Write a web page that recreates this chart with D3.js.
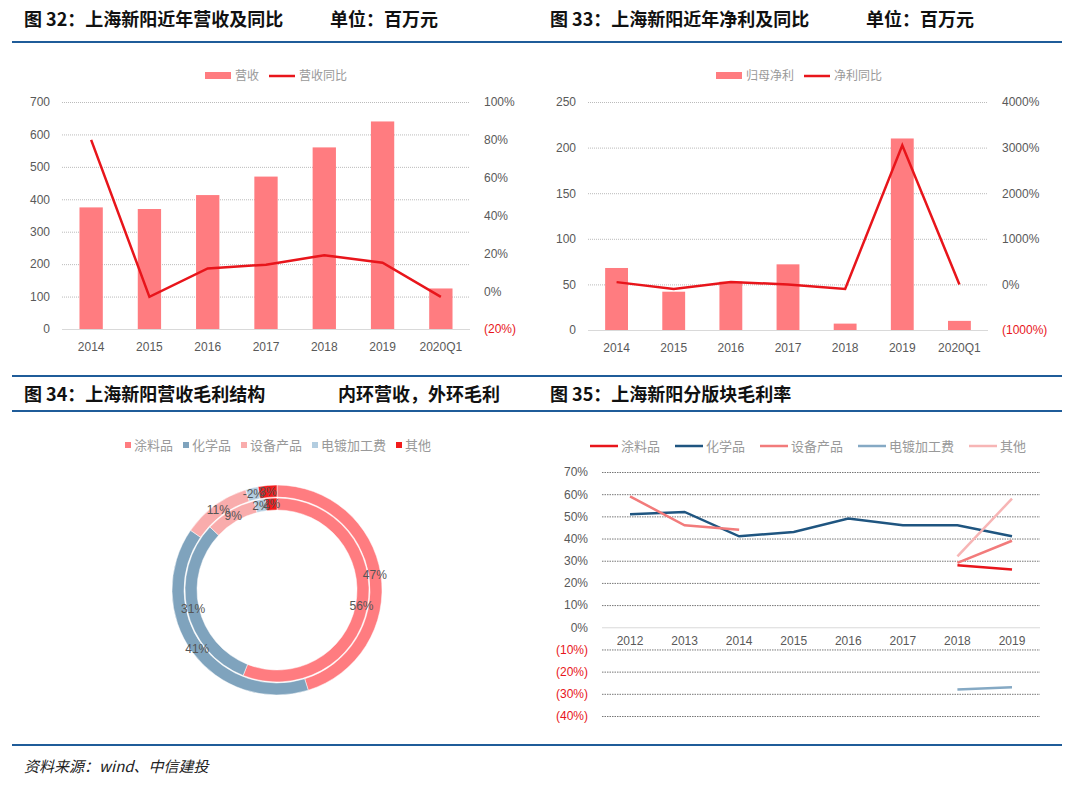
<!DOCTYPE html>
<html><head><meta charset="utf-8">
<script src="https://cdn.jsdelivr.net/npm/d3@7"></script>
<style>
body{margin:0;background:#fff;}
text{font-family:"Liberation Sans",Arial,sans-serif;}
.cn{font-family:"Noto Sans CJK SC",sans-serif;}
</style></head><body>
<svg id="c" width="1080" height="789"></svg>
<script>
// chart 32
const years32 = ["2014","2015","2016","2017","2018","2019","2020Q1"];
const revenue = [375, 370, 413, 470, 560, 640, 125];
const revenueYoy = [80, -3, 12, 14, 19, 15, -3];
// chart 33
const profit = [68, 42, 53, 72, 7, 210, 10];
const profitYoy = [50, -100, 50, 0, -100, 3050, 0];
// chart 34
const segments = ["涂料品","化学品","设备产品","电镀加工费","其他"];
const segRevenue = [56, 31, 9, 2, 2];
const segProfit = [47, 41, 11, -2, 3];
const segColors = ["#ff7c80","#7fa3bd","#f9acac","#b3cde0","#f21c1c"];
// chart 35
const years35 = ["2012","2013","2014","2015","2016","2017","2018","2019"];
const margins = [
  {name:"涂料品", color:"#e8151b", v:[null,null,null,null,null,null,28,26]},
  {name:"化学品", color:"#1f5580", v:[51,52,41,43,49,46,46,41]},
  {name:"设备产品", color:"#f27b7b", v:[59,46,44,null,null,null,29,39]},
  {name:"电镀加工费", color:"#85a9c4", v:[null,null,null,null,null,null,-28,-27]},
  {name:"其他", color:"#f7b5b5", v:[null,null,null,null,null,null,32,58]}
];

const svg = d3.select("#c");
const blue = "#1f5c99";

// header rules and titles
[42, 376, 411, 745].forEach(y => svg.append("line").attr("x1",12).attr("x2",1062)
  .attr("y1",y).attr("y2",y).attr("stroke",blue).attr("stroke-width",2));
const titles = [
  [24,26,"图 32：上海新阳近年营收及同比"],[330,26,"单位：百万元"],
  [550,26,"图 33：上海新阳近年净利及同比"],[866,26,"单位：百万元"],
  [24,401,"图 34：上海新阳营收毛利结构"],[338,401,"内环营收，外环毛利"],
  [550,401,"图 35：上海新阳分版块毛利率"]];
titles.forEach(t => svg.append("text").attr("class","cn").attr("x",t[0]).attr("y",t[1])
  .attr("font-size",18).attr("font-weight","bold").attr("fill","#111").text(t[2]));
svg.append("text").attr("class","cn").attr("x",24).attr("y",772).attr("font-size",15)
  .attr("font-style","italic").attr("fill","#222").text("资料来源：wind、中信建投");

function barLine(opt) {
  const g = svg.append("g");
  const x = d3.scaleBand().domain(years32).range([opt.x0, opt.x1]).paddingInner(0.6).paddingOuter(0.3);
  const y = d3.scaleLinear().domain(opt.yl).range([opt.yb, opt.yt]);
  const y2 = d3.scaleLinear().domain(opt.yr).range([opt.yb, opt.yt]);
  g.append("g").attr("transform",`translate(${opt.x0},0)`)
    .call(d3.axisLeft(y).tickValues(opt.lt).tickSize(-(opt.x1-opt.x0)).tickPadding(12))
    .call(a => { a.select(".domain").remove();
      a.selectAll("line").attr("stroke","#bbb").attr("stroke-dasharray","1,1");
      a.selectAll("text").attr("fill","#595959");
      a.selectAll(".tick:first-of-type line").attr("stroke","#d9d9d9").attr("stroke-dasharray",null); });
  g.append("g").attr("transform",`translate(${opt.x1},0)`)
    .call(d3.axisRight(y2).tickValues(opt.rt).tickSize(0).tickPadding(14)
      .tickFormat(d => d < 0 ? `(${-d}%)` : `${d}%`))
    .call(a => { a.select(".domain").remove();
      a.selectAll("text").attr("fill", d => d < 0 ? "#e8151b" : "#595959"); });
  g.selectAll("g.tick text").attr("font-size",12);
  g.selectAll("rect.b").data(opt.bars).join("rect")
    .attr("x",(d,i)=>x(years32[i])).attr("width",x.bandwidth())
    .attr("y",d=>y(d)).attr("height",d=>y(0)-y(d)).attr("fill","#ff7c80");
  g.append("path").datum(opt.line).attr("fill","none").attr("stroke","#e8151b").attr("stroke-width",2.5)
    .attr("d", d3.line().x((d,i)=>x(years32[i])+x.bandwidth()/2).y(d=>y2(d)));
  g.selectAll("text.xl").data(years32).join("text").attr("x",d=>x(d)+x.bandwidth()/2)
    .attr("y",opt.yb+22).attr("text-anchor","middle").attr("font-size",12).attr("fill","#595959").text(d=>d);
  const lx = opt.lx;
  g.append("rect").attr("x",lx).attr("y",72).attr("width",26).attr("height",7).attr("fill","#ff7c80");
  g.append("text").attr("class","cn").attr("x",lx+30).attr("y",80).attr("font-size",12).attr("fill","#999").text(opt.leg[0]);
  const l2 = lx + 30 + opt.leg[0].length*12 + 10;
  g.append("line").attr("x1",l2).attr("x2",l2+26).attr("y1",76).attr("y2",76).attr("stroke","#e8151b").attr("stroke-width",2.5);
  g.append("text").attr("class","cn").attr("x",l2+30).attr("y",80).attr("font-size",12).attr("fill","#999").text(opt.leg[1]);
}
barLine({x0:62,x1:470,yt:102,yb:329,yl:[0,700],yr:[-20,100],lt:d3.range(0,701,100),rt:d3.range(-20,101,20),
  bars:revenue,line:revenueYoy,leg:["营收","营收同比"],lx:205});
barLine({x0:588,x1:988,yt:102,yb:330,yl:[0,250],yr:[-1000,4000],lt:d3.range(0,251,50),rt:d3.range(-1000,4001,1000),
  bars:profit,line:profitYoy,leg:["归母净利","净利同比"],lx:716});

// chart 34 donut
const cx = 277, cy = 590;
const pie = d3.pie().sort(null).value(d => Math.abs(d));
const rings = [[segRevenue, 80, 92], [segProfit, 93, 105]];
const g34 = svg.append("g").attr("transform",`translate(${cx},${cy})`);
rings.forEach(([vals, r0, r1]) => {
  const arc = d3.arc().innerRadius(r0).outerRadius(r1);
  g34.append("g").selectAll("path").data(pie(vals)).join("path").attr("d",arc)
    .attr("fill",(d,i)=>segColors[i]).attr("stroke","#fff").attr("stroke-width",0.5);
});
rings.forEach(([vals, r0, r1]) => {
  const arc = d3.arc().innerRadius(r0).outerRadius(r1);
  g34.append("g").selectAll("text").data(pie(vals)).join("text")
    .attr("transform",d=>`translate(${arc.centroid(d)})`).attr("text-anchor","middle").attr("dy","0.35em")
    .attr("font-family","DejaVu Serif,serif").attr("font-size",12).attr("fill","#555").text(d=>d.data+"%");
});
let lx34 = 125;
segments.forEach((s,i) => {
  svg.append("rect").attr("x",lx34).attr("y",442).attr("width",6).attr("height",6).attr("fill",segColors[i]);
  svg.append("text").attr("class","cn").attr("x",lx34+9).attr("y",450).attr("font-size",13).attr("fill","#999").text(s);
  lx34 += 9 + s.length*13 + 10;
});

// chart 35
const x35 = d3.scalePoint().domain(years35).range([630,1012]);
const y35 = d3.scaleLinear().domain([-40,70]).range([716,472]);
const g35 = svg.append("g");
g35.append("g").attr("transform","translate(602,0)")
  .call(d3.axisLeft(y35).tickValues(d3.range(-40,71,10)).tickSize(-438).tickPadding(14)
    .tickFormat(d => d < 0 ? `(${-d}%)` : `${d}%`))
  .call(a => { a.select(".domain").remove();
    a.selectAll("line").attr("stroke","#777").attr("stroke-dasharray","1.5,1");
    a.selectAll(".tick").filter(d=>d===0).select("line").attr("stroke","#d9d9d9").attr("stroke-dasharray",null);
    a.selectAll("text").attr("font-size",12).attr("fill",d=>d<0?"#e8151b":"#595959"); });
g35.selectAll("text.xl").data(years35).join("text").attr("x",d=>x35(d)).attr("y",y35(0)+18)
  .attr("text-anchor","middle").attr("font-size",12).attr("fill","#595959").text(d=>d);
const line35 = d3.line().defined(d=>d!==null).x((d,i)=>x35(years35[i])).y(d=>y35(d));
margins.forEach(s => g35.append("path").attr("fill","none").attr("stroke",s.color).attr("stroke-width",2.5)
  .attr("d", line35(s.v)));
let lx35 = 590;
margins.forEach(s => {
  g35.append("line").attr("x1",lx35).attr("x2",lx35+28).attr("y1",446).attr("y2",446).attr("stroke",s.color).attr("stroke-width",2.5);
  g35.append("text").attr("class","cn").attr("x",lx35+31).attr("y",451).attr("font-size",13).attr("fill","#999").text(s.name);
  lx35 += 31 + s.name.length*13 + 15;
});
</script></body></html>
